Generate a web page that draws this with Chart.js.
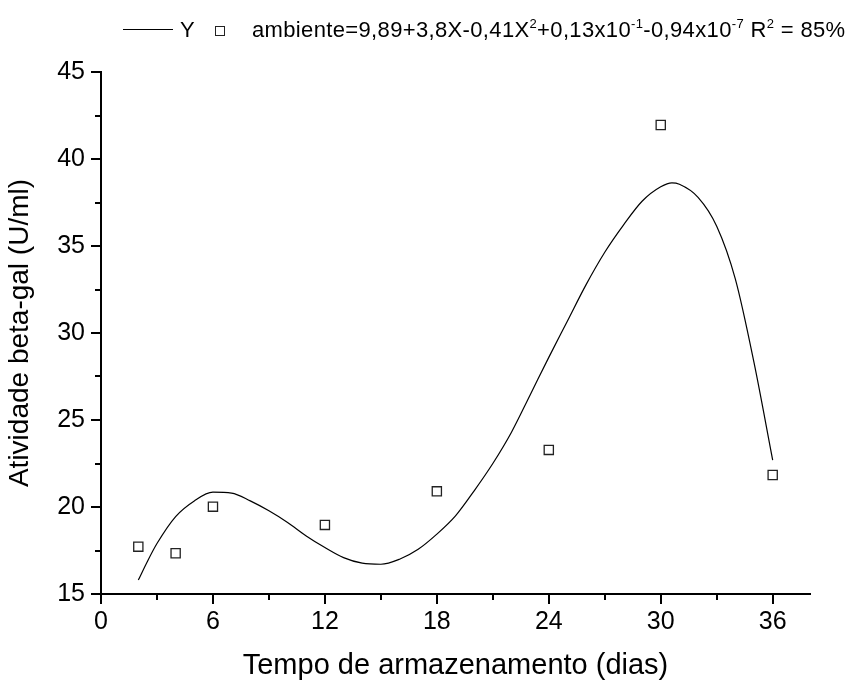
<!DOCTYPE html>
<html>
<head>
<meta charset="utf-8">
<script src="https://cdn.jsdelivr.net/npm/chart.js@4.4.1/dist/chart.umd.min.js"></script>
<style>
  html, body { margin: 0; padding: 0; background: #fff; }
  #wrap { position: relative; width: 850px; height: 684px; }
  #legend { position: absolute; left: 0; top: 0; width: 850px; height: 60px;
    font-family: "Liberation Sans", Arial, sans-serif; font-size: 22px; line-height: 22px; color: #000; }
  #legend .item { position: absolute; top: 19px; white-space: nowrap; }
  #legend .line { position: absolute; left: 123px; top: 29px; width: 50px; height: 0; border-top: 1px solid #000; }
  #legend .box { position: absolute; left: 215px; top: 26px; width: 8px; height: 8px; border: 1px solid #222; }
  #legend sup { font-size: 13px; line-height: 0; vertical-align: 9px; }
</style>
</head>
<body>
<div id="wrap">
  <canvas id="grafico" width="850" height="684"></canvas>
  <div id="legend">
    <div class="line"></div>
    <span class="item" style="left:180px">Y</span>
    <div class="box"></div>
    <span class="item" style="left:252px; letter-spacing:0.35px">ambiente=9,89+3,8X-0,41X<sup>2</sup>+0,13x10<sup>-1</sup>-0,94x10<sup>-7</sup> R<sup>2</sup> = 85%</span>
  </div>
</div>
<script>
// dados observados (dias, atividade)
const diasObs = [2, 4, 6, 12, 18, 24, 30, 36];
const atividadeObs = [17.72, 17.34, 20.02, 18.97, 20.9, 23.28, 41.95, 21.84];

// curva ajustada
const diasCurva = [2, 2.5, 3, 4, 5, 6, 7, 8, 9, 10, 11, 12, 13, 14, 15, 16, 17, 18, 19, 20, 21, 22, 23, 24, 25, 26, 27, 28, 29, 30, 30.6, 31, 32, 33, 34, 35, 36];
const atividadeCurva = [15.8, 16.9, 17.9, 19.45, 20.35, 20.85, 20.8, 20.35, 19.78, 19.11, 18.34, 17.67, 17.09, 16.77, 16.71, 17.0, 17.57, 18.44, 19.49, 20.93, 22.5, 24.3, 26.44, 28.6, 30.69, 32.78, 34.64, 36.2, 37.57, 38.4, 38.63, 38.55, 37.8, 36.14, 33.1, 28.3, 22.7];

const xTicksMaiores = [0, 6, 12, 18, 24, 30, 36];
const yTicksMaiores = [15, 20, 25, 30, 35, 40, 45];

const fonte = "'Liberation Sans', Arial, sans-serif";

function toPoints(xs, ys) {
    let data = [];
    for (let i = 0; i < xs.length; i++) {
        data[i] = { x: xs[i], y: ys[i] };
    }
    return data;
}

// ticks menores (mais curtos) desenhados com as escalas do Chart.js
const minorTicks = {
    id: 'minorTicks',
    afterDraw(chart) {
        const ctx = chart.ctx;
        const xs = chart.scales.x, ys = chart.scales.y;
        ctx.save();
        ctx.strokeStyle = '#000';
        ctx.lineWidth = 2;
        ctx.beginPath();
        xs.ticks.forEach(t => {
            if (!xTicksMaiores.includes(t.value)) {
                const px = Math.round(xs.getPixelForValue(t.value));
                ctx.moveTo(px, xs.top);
                ctx.lineTo(px, xs.top + 6);
            }
        });
        ys.ticks.forEach(t => {
            if (!yTicksMaiores.includes(t.value)) {
                const py = Math.round(ys.getPixelForValue(t.value));
                ctx.moveTo(ys.right, py);
                ctx.lineTo(ys.right - 6, py);
            }
        });
        ctx.stroke();
        ctx.restore();
    }
};

const data = {
    datasets: [{
        label: 'Y',
        data: toPoints(diasCurva, atividadeCurva),
        showLine: true,
        borderColor: '#000',
        borderWidth: 1.2,
        pointRadius: 0,
        cubicInterpolationMode: 'monotone',
        fill: false
    }, {
        label: 'ambiente',
        data: toPoints(diasObs, atividadeObs),
        pointStyle: 'rect',
        pointRadius: 6.5,
        pointBorderWidth: 1.3,
        pointBorderColor: '#222',
        pointBackgroundColor: '#fff'
    }]
};

const options = {
    responsive: false,
    animation: false,
    devicePixelRatio: 1,
    layout: { padding: { top: 72, right: 40, left: 0, bottom: 0 } },
    plugins: {
        legend: { display: false },
        tooltip: { enabled: false }
    },
    scales: {
        x: {
            type: 'linear',
            min: 0,
            max: 38,
            afterFit: s => { s.height = 90; },
            border: { color: '#000', width: 2 },
            grid: {
                drawOnChartArea: false,
                tickLength: 10,
                lineWidth: 2,
                tickColor: c => xTicksMaiores.includes(c.tick.value) ? '#000' : 'rgba(0,0,0,0)'
            },
            ticks: {
                stepSize: 3,
                includeBounds: false,
                autoSkip: false,
                maxRotation: 0,
                padding: 3,
                color: '#000',
                font: { family: fonte, size: 25 },
                callback: v => xTicksMaiores.includes(v) ? String(v) : ''
            },
            title: {
                display: true,
                text: 'Tempo de armazenamento (dias)',
                color: '#000',
                font: { family: fonte, size: 29 },
                padding: { top: 0, bottom: 1 }
            }
        },
        y: {
            type: 'linear',
            min: 15,
            max: 45,
            afterFit: s => { s.width = 101; },
            border: { color: '#000', width: 2 },
            grid: {
                drawOnChartArea: false,
                tickLength: 10,
                lineWidth: 2,
                tickColor: c => yTicksMaiores.includes(c.tick.value) ? '#000' : 'rgba(0,0,0,0)'
            },
            ticks: {
                stepSize: 2.5,
                autoSkip: false,
                padding: 6,
                color: '#000',
                font: { family: fonte, size: 25 },
                callback: v => yTicksMaiores.includes(v) ? String(v) : ''
            },
            title: {
                display: true,
                text: 'Atividade beta-gal (U/ml)',
                color: '#000',
                font: { family: fonte, size: 28 },
                padding: { top: 3, bottom: 0 }
            }
        }
    }
};

new Chart('grafico', { type: 'scatter', data, options, plugins: [minorTicks] });
</script>
</body>
</html>
